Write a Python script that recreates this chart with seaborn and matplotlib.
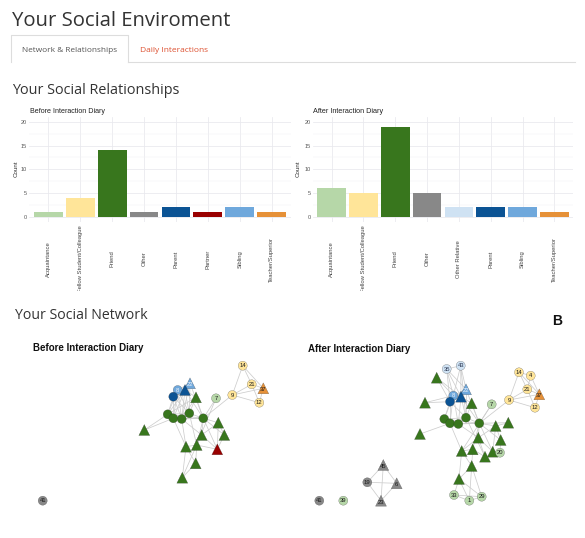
import numpy as np
import pandas as pd
import matplotlib
matplotlib.use("Agg")
import matplotlib.pyplot as plt
from matplotlib.collections import LineCollection
from matplotlib.patches import Rectangle
from matplotlib.lines import Line2D
import seaborn as sns

# ---------------- data ----------------
before_cats = ["Acquaintance", "Fellow Student/Colleague", "Friend", "Other",
               "Parent", "Partner", "Sibling", "Teacher/Superior"]
before_counts = [1, 4, 14, 1, 2, 1, 2, 1]
after_cats = ["Acquaintance", "Fellow Student/Colleague", "Friend", "Other",
              "Other Relative", "Parent", "Sibling", "Teacher/Superior"]
after_counts = [6, 5, 19, 5, 2, 2, 2, 1]
y_ticks = [0, 5, 10, 15, 20]

palette = {
    "Acquaintance": "#b6d7a8",
    "Fellow Student/Colleague": "#ffe599",
    "Friend": "#38761d",
    "Other": "#888888",
    "Other Relative": "#cfe2f3",
    "Parent": "#0b5394",
    "Partner": "#990000",
    "Sibling": "#6fa8dc",
    "Teacher/Superior": "#e69138",
}

# network before (layout positions)
before_x = [242.7, 251.7, 263.3, 232.3, 259.3, 216.0, 190.0, 177.7, 185.0, 173.3,
            196.0, 167.7, 173.3, 181.7, 189.3, 203.3, 144.3, 218.3, 201.7, 224.3,
            186.0, 196.7, 195.7, 182.3, 217.3, 42.7]
before_y = [365.7, 384.3, 388.3, 395.0, 402.7, 398.3, 383.3, 390.0, 390.0, 396.7,
            397.3, 414.3, 418.3, 419.0, 413.3, 418.3, 430.0, 422.7, 435.0, 435.0,
            446.7, 445.0, 463.3, 477.7, 449.3, 500.7]
before_cat = ["Fellow Student/Colleague", "Fellow Student/Colleague", "Teacher/Superior",
              "Fellow Student/Colleague", "Fellow Student/Colleague", "Acquaintance",
              "Sibling", "Sibling", "Parent", "Parent",
              "Friend", "Friend", "Friend", "Friend", "Friend", "Friend", "Friend",
              "Friend", "Friend", "Friend", "Friend", "Friend", "Friend", "Friend",
              "Partner", "Other"]
before_shape = ["circle", "circle", "triangle", "circle", "circle", "circle",
                "triangle", "circle", "triangle", "circle",
                "triangle", "circle", "circle", "circle", "circle", "circle", "triangle",
                "triangle", "triangle", "triangle", "triangle", "triangle", "triangle", "triangle",
                "triangle", "circle"]
before_label = ["14", "21", "37", "9", "12", "7", "22", "8", "", "",
                "", "", "", "", "", "", "", "", "", "", "", "", "", "", "", "41"]
before_edges = [(0, 1), (0, 3), (0, 2), (1, 3), (1, 2), (1, 4), (3, 4), (3, 2), (2, 4), (3, 15),
                (5, 15), (5, 21),
                (6, 7), (6, 8), (7, 8), (7, 9), (8, 9), (6, 9),
                (6, 11), (6, 13), (6, 14), (6, 15), (7, 11), (7, 12), (7, 13), (7, 14),
                (8, 12), (8, 13), (8, 14), (8, 15), (9, 11), (9, 12), (9, 13), (9, 14),
                (10, 11), (10, 13), (10, 14), (10, 15), (10, 8),
                (11, 12), (11, 13), (11, 14), (11, 15), (12, 13), (12, 14), (12, 15),
                (13, 14), (13, 15), (14, 15),
                (16, 12), (16, 11),
                (17, 15), (17, 18), (17, 24), (18, 15), (18, 13), (18, 21), (18, 24),
                (19, 15), (19, 17), (19, 24), (20, 13), (20, 12), (20, 21), (20, 22), (20, 23),
                (21, 15), (21, 22), (21, 24), (21, 14), (22, 23), (23, 21), (24, 15)]

# network after (layout positions)
after_x = [446.7, 460.7, 436.7, 466.0, 453.3, 461.0, 450.0, 425.0, 471.7, 491.7,
           519.0, 530.7, 527.3, 539.3, 509.0, 535.0, 444.3, 450.0, 458.3, 466.0,
           479.3, 420.0, 495.7, 508.3, 478.3, 500.7, 461.7, 472.7, 492.7, 485.0,
           471.7, 459.0, 500.0, 454.0, 469.3, 481.7, 383.3, 367.3, 396.7, 381.0,
           319.3, 343.3]
after_y = [369.0, 365.7, 377.7, 389.3, 395.7, 396.7, 401.7, 402.7, 403.3, 404.3,
           372.3, 375.7, 389.3, 394.3, 400.0, 407.7, 419.0, 423.3, 424.0, 417.7,
           423.3, 434.0, 426.0, 422.7, 437.7, 440.0, 451.0, 449.3, 451.7, 456.7,
           466.0, 479.0, 452.7, 495.0, 500.7, 496.7, 465.0, 482.3, 483.3, 500.7,
           500.7, 500.7]
after_cat = ["Other Relative", "Other Relative", "Friend", "Sibling", "Sibling",
             "Parent", "Parent", "Friend", "Friend", "Acquaintance",
             "Fellow Student/Colleague", "Fellow Student/Colleague", "Fellow Student/Colleague",
             "Teacher/Superior", "Fellow Student/Colleague", "Fellow Student/Colleague",
             "Friend", "Friend", "Friend", "Friend", "Friend",
             "Friend", "Friend", "Friend", "Friend", "Friend", "Friend", "Friend",
             "Friend", "Friend", "Friend", "Friend",
             "Acquaintance", "Acquaintance", "Acquaintance", "Acquaintance",
             "Other", "Other", "Other", "Other", "Other", "Acquaintance"]
after_shape = ["circle", "circle", "triangle", "triangle", "circle", "triangle", "circle",
               "triangle", "triangle", "circle",
               "circle", "circle", "circle", "triangle", "circle", "circle",
               "circle", "circle", "circle", "circle", "circle",
               "triangle", "triangle", "triangle", "triangle", "triangle", "triangle",
               "triangle", "triangle", "triangle", "triangle", "triangle",
               "circle", "circle", "circle", "circle",
               "triangle", "circle", "triangle", "triangle", "circle", "circle"]
after_label = ["35", "43", "", "22", "8", "", "", "", "", "7",
               "14", "4", "21", "37", "9", "12",
               "", "", "", "", "", "", "", "", "", "", "", "", "", "", "", "",
               "20", "33", "1", "29", "45", "19", "6", "23", "41", "39"]
after_edges = [(10, 11), (10, 12), (10, 14), (10, 13), (11, 12), (11, 13), (12, 13), (12, 14),
               (12, 15), (13, 15), (14, 15), (14, 13), (14, 20),
               (0, 3), (0, 4), (0, 5), (0, 6), (1, 3), (1, 4), (1, 5), (1, 19), (0, 1),
               (2, 4), (2, 5), (2, 6),
               (3, 4), (3, 5), (3, 6), (4, 5), (4, 6), (5, 6),
               (3, 19), (3, 20), (4, 16), (4, 17), (4, 18), (5, 18), (5, 19), (5, 20),
               (6, 16), (6, 17), (6, 19), (5, 8),
               (7, 6), (7, 4), (8, 19), (8, 20), (9, 20), (9, 26),
               (16, 17), (16, 18), (16, 19), (16, 20), (17, 18), (17, 19), (17, 20),
               (18, 19), (18, 20), (19, 20),
               (21, 17), (22, 20), (22, 24), (22, 28), (23, 20), (23, 22),
               (24, 20), (24, 18), (24, 26), (24, 29), (25, 20), (25, 22), (25, 32),
               (26, 17), (26, 27), (26, 31), (26, 30), (27, 20), (27, 29), (27, 30),
               (28, 20), (28, 32), (28, 24), (29, 19),
               (30, 31), (30, 35), (30, 34), (31, 33), (31, 34), (31, 35),
               (33, 34), (34, 35), (33, 35),
               (36, 37), (36, 38), (36, 39), (37, 38), (37, 39), (38, 39)]

# ---------------- figure ----------------
W, H = 585, 538
fig = plt.figure(figsize=(W / 100, H / 100), dpi=100)
fig.patch.set_facecolor("white")
SANS = ["Liberation Sans", "DejaVu Sans"]
HEAD = ["Open Sans", "DejaVu Sans"]


def px_rect(x0, y0, x1, y1):
    return [x0 / W, 1 - y1 / H, (x1 - x0) / W, (y1 - y0) / H]


def fx(x):
    return x / W


def fy(y):
    return 1 - y / H


renderer = fig.canvas.get_renderer()


def fit(t, target_w):
    for _ in range(3):
        bb = t.get_window_extent(renderer)
        if bb.width > 0:
            t.set_fontsize(t.get_fontsize() * target_w / bb.width)


# headers
t = fig.text(fx(11.7), fy(26), "Your Social Enviroment", family=HEAD, color="#333333",
             fontsize=14, va="baseline", ha="left")
fit(t, 218)
t = fig.text(fx(21.7), fy(52.5), "Network & Relationships", family=HEAD, color="#555555",
             fontsize=6, va="baseline", ha="left")
fit(t, 96)
t = fig.text(fx(140), fy(52.5), "Daily Interactions", family=HEAD, color="#dd5030",
             fontsize=6, va="baseline", ha="left")
fit(t, 68)
fig.add_artist(Line2D([fx(11), fx(11), fx(128), fx(128)], [fy(62), fy(35), fy(35), fy(62)],
                      color="#dddddd", lw=0.8))
fig.add_artist(Line2D([fx(128), fx(575)], [fy(62), fy(62)], color="#dddddd", lw=0.8))
t = fig.text(fx(11.7), fy(94), "Your Social Relationships", family=HEAD, color="#333333",
             fontsize=11, va="baseline", ha="left")
fit(t, 167)
t = fig.text(fx(15), fy(319), "Your Social Network", family=HEAD, color="#333333",
             fontsize=10, va="baseline", ha="left")
fit(t, 132)

# ---------------- bar charts ----------------
def bar_panel(rect, cats, counts, title, title_x, count_x):
    ax = fig.add_axes(px_rect(*rect))
    df = pd.DataFrame({"cat": cats, "count": counts})
    sns.barplot(data=df, x="cat", y="count", hue="cat",
                palette={c: palette[c] for c in cats}, legend=False,
                width=0.9, saturation=1, ax=ax, zorder=2)
    ax.set_xlim(-0.6, len(cats) - 0.4)
    ax.set_ylim(-1, 21)
    ax.set_yticks(y_ticks)
    ax.set_yticks([2.5, 7.5, 12.5, 17.5], minor=True)
    ax.set_axisbelow(True)
    ax.grid(True, which="major", color="#e8e8ee", lw=0.55)
    ax.grid(True, which="minor", axis="y", color="#f2f2f5", lw=0.35)
    ax.tick_params(axis="y", which="both", length=0, pad=1.6, labelsize=4,
                   labelcolor="#555555")
    for lab in ax.get_yticklabels():
        lab.set_family(SANS)
    ax.tick_params(axis="x", length=0, pad=27, labelsize=4.2, labelcolor="#444444")
    for lab in ax.get_xticklabels():
        lab.set_rotation(90)
        lab.set_va("center")
        lab.set_ha("center")
        lab.set_family(SANS)
    for s in ax.spines.values():
        s.set_visible(False)
    ax.set_xlabel("")
    ax.set_ylabel("")
    tt = fig.text(fx(title_x), fy(113), title, family=SANS, color="#222222",
                  fontsize=5, va="baseline", ha="left")
    fit(tt, 75 if title.startswith("Before") else 70)
    fig.text(fx(count_x), fy(169), "Count", family=SANS, color="#333333",
             fontsize=4.5, rotation=90, va="center", ha="center")
    return ax


bar_panel((29.2, 117, 290.8, 221.5), before_cats, before_counts,
          "Before Interaction Diary", 30, 16)
bar_panel((312.6, 117, 573.4, 221.5), after_cats, after_counts,
          "After Interaction Diary", 312.7, 298)

# clip of long tick labels
fig.add_artist(Rectangle((0, fy(302)), 1, 11 / H, transform=fig.transFigure,
                         facecolor="white", edgecolor="none", zorder=10))

# ---------------- networks ----------------
def net_panel(xlim, xs, ys, cats, shapes, labels, edges):
    ax = fig.add_axes(px_rect(xlim[0], 330, xlim[1], 538))
    segs = [[(xs[i], ys[i]), (xs[j], ys[j])] for i, j in edges]
    ax.add_collection(LineCollection(segs, colors="#cdcdcd", linewidths=0.55, zorder=1))
    df = pd.DataFrame({"x": xs, "y": ys, "cat": cats, "shape": shapes})
    sns.scatterplot(data=df, x="x", y="y", hue="cat", style="shape", size="shape",
                    palette={c: palette[c] for c in set(cats)},
                    markers={"circle": "o", "triangle": "^"},
                    sizes={"circle": 42, "triangle": 62},
                    edgecolor="#2b2b2b", linewidth=0.15, legend=False, ax=ax, zorder=3)
    ax.set_xlim(*xlim)
    ax.set_ylim(538, 330)
    ax.axis("off")
    for x, y, lab, sh, c in zip(xs, ys, labels, shapes, cats):
        if not lab:
            continue
        col = "#f0f4fa" if c == "Sibling" else "#1a1a1a"
        if c == "Other Relative":
            col = "#2a3550"
        ax.text(x, y + (1.4 if sh == "triangle" else 0.2), lab, fontsize=4.2, family=SANS,
                color=col, ha="center", va="center", zorder=4)
    return ax


net_panel((0, 292), before_x, before_y, before_cat, before_shape, before_label, before_edges)
net_panel((292, 585), after_x, after_y, after_cat, after_shape, after_label, after_edges)

t = fig.text(fx(32.7), fy(351), "Before Interaction Diary", family=SANS, weight="bold",
             color="#111111", fontsize=7, va="baseline", ha="left")
fit(t, 110)
t = fig.text(fx(308.3), fy(351.5), "After Interaction Diary", family=SANS, weight="bold",
             color="#111111", fontsize=7, va="baseline", ha="left")
fit(t, 103)
t = fig.text(fx(551.7), fy(325), "B", family=SANS, weight="bold", color="#111111",
             fontsize=12, va="baseline", ha="left")
fit(t, 10)

fig.savefig("out.png", dpi=100, facecolor="white")
